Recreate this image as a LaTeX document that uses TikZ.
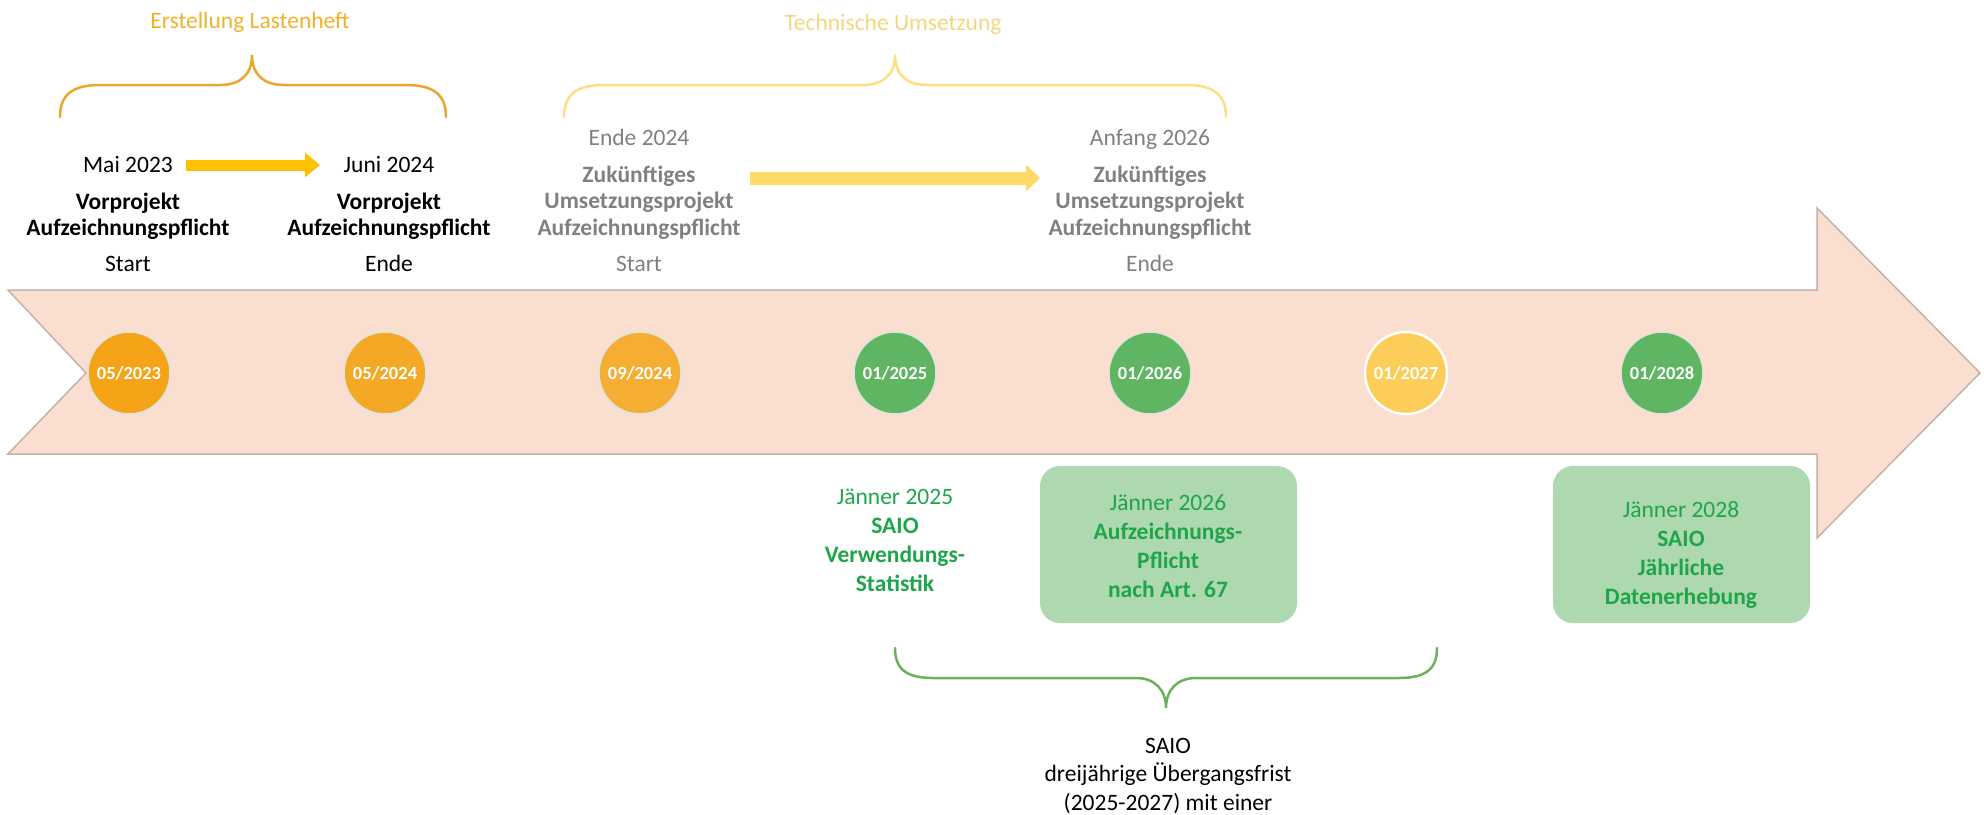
\documentclass[tikz,border=0pt]{standalone}
\usepackage{fontspec}
\setmainfont{Carlito}
\usetikzlibrary{arrows.meta}
\definecolor{peach}{RGB}{250,223,208}
\definecolor{peachline}{RGB}{196,178,170}
\definecolor{orangeA}{RGB}{245,163,23}
\definecolor{orangeB}{RGB}{245,168,38}
\definecolor{orangeC}{RGB}{245,173,50}
\definecolor{dotgreen}{RGB}{96,181,99}
\definecolor{dotyellow}{RGB}{253,205,90}
\definecolor{dotrim}{RGB}{222,228,222}
\definecolor{boxgreen}{RGB}{174,216,176}
\definecolor{txtgreen}{RGB}{30,165,75}
\definecolor{txtgrey}{RGB}{128,128,128}
\definecolor{braceorange}{RGB}{236,165,45}
\definecolor{braceyellow}{RGB}{255,222,130}
\definecolor{bracegreen}{RGB}{106,178,90}
\definecolor{titleorange}{RGB}{240,178,45}
\definecolor{titleyellow}{RGB}{245,214,125}
\definecolor{arrowA}{RGB}{255,192,0}
\definecolor{arrowB}{RGB}{255,217,102}

% centred lines whose baseline is that of the first line
\newcommand\linesblock[1]{\begin{tabular}[t]{@{}c@{}}#1\end{tabular}}

\begin{document}
\begin{tikzpicture}[x=1pt,y=-1pt,
  lbl/.style={inner sep=0pt, anchor=base,
    font=\fontsize{23.5}{26.5}\selectfont},
  lblb/.style={lbl, font=\fontsize{23.5}{26.5}\selectfont\bfseries},
  glbl/.style={lbl, text=txtgreen, font=\fontsize{23.5}{29}\selectfont},
  dot/.style={circle, minimum size=82pt, inner sep=0pt, draw=dotrim,
    line width=1.5pt, text=white, font=\fontsize{18.5}{20}\selectfont\bfseries},
  gbox/.style={rectangle, rounded corners=20pt, fill=boxgreen,
    minimum width=257pt, minimum height=157pt, inner sep=0pt},
  brace/.style={line width=2.5pt, line cap=round},
  fatarrow/.style={line width=#1}
]
\useasboundingbox (0,0) rectangle (1984,814);

% timeline band
\filldraw[fill=peach, draw=peachline, line width=1.5pt]
  (8,290) -- (1817,290) -- (1817,208) -- (1980,373) -- (1817,538)
  -- (1817,454) -- (8,454) -- (86,373) -- cycle;

% milestones on the band
\node[dot, fill=orangeA] (d1) at (129,373) {05/2023};
\node[dot, fill=orangeB] (d2) at (385,373) {05/2024};
\node[dot, fill=orangeC] (d3) at (640,373) {09/2024};
\node[dot, fill=dotgreen] (d4) at (895,373) {01/2025};
\node[dot, fill=dotgreen] (d5) at (1150,373) {01/2026};
\node[dot, fill=dotyellow, draw=white, line width=2.5pt] (d6) at (1406,373) {01/2027};
\node[dot, fill=dotgreen] (d7) at (1662,373) {01/2028};

% phase titles and braces
\node[lbl, text=titleorange] (t1) at (250,28) {Erstellung Lastenheft};
\node[lbl, text=titleyellow] (t2) at (893,30) {Technische Umsetzung};

\draw[brace, braceorange]
  (60,117) .. controls (60,95) and (72,85) .. (100,85) -- (220,85)
  .. controls (240,85) and (252,75) .. (252,55)
  .. controls (252,75) and (264,85) .. (284,85) -- (406,85)
  .. controls (434,85) and (446,95) .. (446,117);

\draw[brace, braceyellow]
  (564,117) .. controls (564,95) and (576,85) .. (604,85) -- (863,85)
  .. controls (883,85) and (895,75) .. (895,55)
  .. controls (895,75) and (907,85) .. (927,85) -- (1186,85)
  .. controls (1214,85) and (1226,95) .. (1226,117);

% Vorprojekt
\node[lbl] (mai) at (128,172) {Mai 2023};
\node[lblb] (vpa) at (128,209) {\linesblock{Vorprojekt\\Aufzeichnungspflicht}};
\node[lbl] (sta) at (128,271) {Start};
\node[lbl] (juni) at (389,172) {Juni 2024};
\node[lblb] (vpb) at (389,209) {\linesblock{Vorprojekt\\Aufzeichnungspflicht}};
\node[lbl] (enb) at (389,271) {Ende};
\coordinate (a1s) at (186,165);
\coordinate (a1e) at (320,165);
\draw[fatarrow=11pt, arrowA, -{Triangle[width=24pt,length=15pt]}] (a1s) -- (a1e);

% Umsetzungsprojekt
\node[lbl, text=txtgrey] (e24) at (639,145) {Ende 2024};
\node[lblb, text=txtgrey] (upa) at (639,182)
  {\linesblock{Zukünftiges\\Umsetzungsprojekt\\Aufzeichnungspflicht}};
\node[lbl, text=txtgrey] (stc) at (639,271) {Start};
\node[lbl, text=txtgrey] (a26) at (1150,145) {Anfang 2026};
\node[lblb, text=txtgrey] (upb) at (1150,182)
  {\linesblock{Zukünftiges\\Umsetzungsprojekt\\Aufzeichnungspflicht}};
\node[lbl, text=txtgrey] (end) at (1150,271) {Ende};
\coordinate (a2s) at (750,178);
\coordinate (a2e) at (1040,178);
\draw[fatarrow=13pt, arrowB, -{Triangle[width=26pt,length=14pt]}] (a2s) -- (a2e);

% SAIO milestones below the band
\node[glbl] (g25) at (895,504)
  {\linesblock{Jänner 2025\\\textbf{SAIO}\\\textbf{Verwendungs-}\\\textbf{Statistik}}};
\node[gbox] (b26) at (1168.5,544.5) {};
\node[glbl] (g26) at (1168,510)
  {\linesblock{Jänner 2026\\\textbf{Aufzeichnungs-}\\\textbf{Pflicht}\\\textbf{nach Art. 67}}};
\node[gbox] (b28) at (1681.5,544.5) {};
\node[glbl] (g28) at (1681,517)
  {\linesblock{Jänner 2028\\\textbf{SAIO}\\\textbf{Jährliche}\\\textbf{Datenerhebung}}};

% transition period
\draw[brace, bracegreen]
  (895,648) .. controls (895,668) and (905,678) .. (933,678) -- (1136,678)
  .. controls (1155,678) and (1166,690) .. (1166,708)
  .. controls (1166,690) and (1177,678) .. (1196,678) -- (1399,678)
  .. controls (1427,678) and (1437,668) .. (1437,648);
\node[lbl, font=\fontsize{23.5}{28.5}\selectfont] (frist) at (1168,753)
  {\linesblock{SAIO\\dreijährige Übergangsfrist\\(2025-2027) mit einer}};
\end{tikzpicture}
\end{document}
